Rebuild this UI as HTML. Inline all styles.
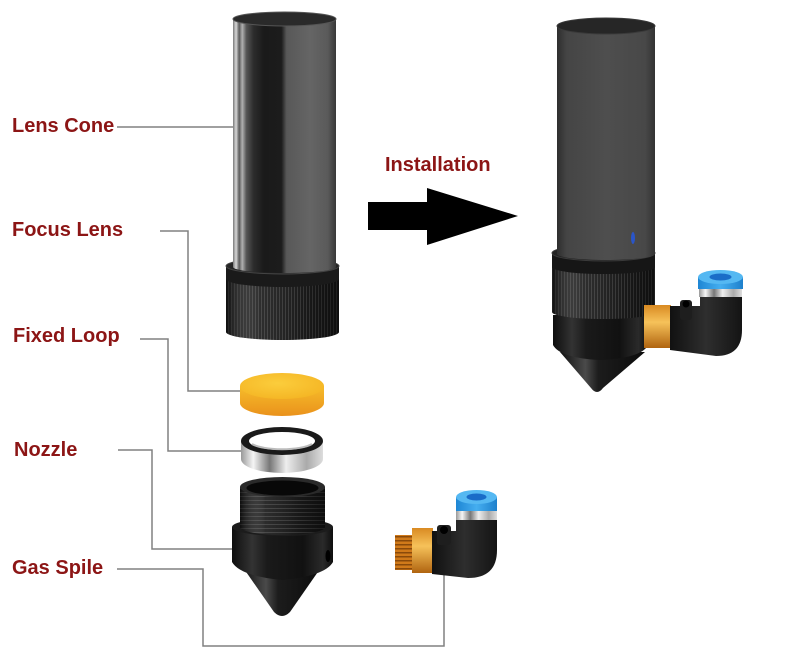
<!DOCTYPE html>
<html><head><meta charset="utf-8">
<style>
html,body{margin:0;padding:0;background:#fff;width:800px;height:664px;overflow:hidden}
svg{display:block}
text{font-family:"Liberation Sans",Arial,sans-serif;font-weight:bold;font-size:20px;fill:#8c1515}
</style></head>
<body>
<svg width="800" height="664" viewBox="0 0 800 664" xmlns="http://www.w3.org/2000/svg">
<defs>
  <linearGradient id="tubeL" x1="0" x2="1" y1="0" y2="0">
    <stop offset="0" stop-color="#7a7a7a"/>
    <stop offset="0.03" stop-color="#d8d8d8"/>
    <stop offset="0.06" stop-color="#5a5a5a"/>
    <stop offset="0.09" stop-color="#b0b0b0"/>
    <stop offset="0.13" stop-color="#555"/>
    <stop offset="0.2" stop-color="#2c2c2c"/>
    <stop offset="0.3" stop-color="#1a1a1a"/>
    <stop offset="0.47" stop-color="#1c1c1c"/>
    <stop offset="0.52" stop-color="#585858"/>
    <stop offset="0.75" stop-color="#656565"/>
    <stop offset="0.92" stop-color="#5a5a5a"/>
    <stop offset="1" stop-color="#383838"/>
  </linearGradient>
  <linearGradient id="tubeR" x1="0" x2="1" y1="0" y2="0">
    <stop offset="0" stop-color="#2e2e2e"/>
    <stop offset="0.1" stop-color="#454545"/>
    <stop offset="0.5" stop-color="#4e4e4e"/>
    <stop offset="0.9" stop-color="#484848"/>
    <stop offset="1" stop-color="#333"/>
  </linearGradient>
  <pattern id="knurl" patternUnits="userSpaceOnUse" width="3" height="10">
    <rect width="3" height="10" fill="#1c1c1c"/>
    <rect width="1" height="10" fill="#3a3a3a"/>
  </pattern>
  <linearGradient id="shade" x1="0" x2="1" y1="0" y2="0">
    <stop offset="0" stop-color="#000" stop-opacity="0.5"/>
    <stop offset="0.3" stop-color="#fff" stop-opacity="0.08"/>
    <stop offset="0.7" stop-color="#000" stop-opacity="0.1"/>
    <stop offset="1" stop-color="#000" stop-opacity="0.5"/>
  </linearGradient>
  <linearGradient id="lensSide" x1="0" x2="0" y1="0" y2="1">
    <stop offset="0" stop-color="#f6bc2a"/>
    <stop offset="1" stop-color="#ea921c"/>
  </linearGradient>
  <radialGradient id="lensTop" cx="0.45" cy="0.4" r="0.7">
    <stop offset="0" stop-color="#fbcd3c"/>
    <stop offset="1" stop-color="#f4b322"/>
  </radialGradient>
  <linearGradient id="silver" x1="0" x2="1" y1="0" y2="0">
    <stop offset="0" stop-color="#999"/>
    <stop offset="0.15" stop-color="#f5f5f5"/>
    <stop offset="0.35" stop-color="#777"/>
    <stop offset="0.55" stop-color="#eee"/>
    <stop offset="0.8" stop-color="#aaa"/>
    <stop offset="1" stop-color="#ddd"/>
  </linearGradient>
  <linearGradient id="noz" x1="0" x2="1" y1="0" y2="0">
    <stop offset="0" stop-color="#0e0e0e"/>
    <stop offset="0.2" stop-color="#333"/>
    <stop offset="0.35" stop-color="#1a1a1a"/>
    <stop offset="0.7" stop-color="#111"/>
    <stop offset="0.9" stop-color="#2a2a2a"/>
    <stop offset="1" stop-color="#0e0e0e"/>
  </linearGradient>
  <linearGradient id="cone" x1="0" x2="1" y1="0" y2="0">
    <stop offset="0" stop-color="#111"/>
    <stop offset="0.3" stop-color="#4a4a4a"/>
    <stop offset="0.45" stop-color="#1c1c1c"/>
    <stop offset="1" stop-color="#0c0c0c"/>
  </linearGradient>
  <linearGradient id="brass" x1="0" x2="0" y1="0" y2="1">
    <stop offset="0" stop-color="#d98a22"/>
    <stop offset="0.4" stop-color="#f6c25a"/>
    <stop offset="1" stop-color="#b06410"/>
  </linearGradient>
  <pattern id="thread" patternUnits="userSpaceOnUse" width="10" height="4">
    <rect width="10" height="4" fill="#d07a1a"/>
    <rect width="10" height="1.5" fill="#8a4a0a"/>
  </pattern>
  <linearGradient id="blk" x1="0" x2="1" y1="0" y2="0">
    <stop offset="0" stop-color="#111"/>
    <stop offset="0.5" stop-color="#2e2e2e"/>
    <stop offset="1" stop-color="#141414"/>
  </linearGradient>
  <linearGradient id="blue" x1="0" x2="1" y1="0" y2="0">
    <stop offset="0" stop-color="#1e86d4"/>
    <stop offset="0.5" stop-color="#45aef0"/>
    <stop offset="1" stop-color="#1e80cc"/>
  </linearGradient>
  <pattern id="nthread" patternUnits="userSpaceOnUse" width="10" height="4">
    <rect width="10" height="4" fill="#1a1a1a"/>
    <rect width="10" height="1" fill="#3a3a3a"/>
  </pattern>
</defs>

<!-- connector lines -->
<g fill="none" stroke="#808080" stroke-width="1.5">
  <path d="M117 127 H233"/>
  <path d="M160 231 H188 V391 H240"/>
  <path d="M140 339 H168 V451 H242"/>
  <path d="M118 450 H152 V549 H232"/>
  <path d="M117 569 H203 V646 H444 V575"/>
</g>

<!-- labels -->
<text x="12" y="132">Lens Cone</text>
<text x="12" y="236">Focus Lens</text>
<text x="13" y="342">Fixed Loop</text>
<text x="14" y="456">Nozzle</text>
<text x="12" y="574">Gas Spile</text>
<text x="385" y="171">Installation</text>

<!-- arrow -->
<polygon points="368,202 427,202 427,188 518,216 427,245 427,230 368,230" fill="#000"/>

<!-- LEFT: knurled ring -->
<path d="M226 266 L226 332 A56.5 8 0 0 0 339 332 L339 266 Z" fill="url(#knurl)"/>
<path d="M226 266 L226 332 A56.5 8 0 0 0 339 332 L339 266 Z" fill="url(#shade)"/>
<path d="M226 266 L226 279 A56.5 8 0 0 0 339 279 L339 266 Z" fill="#1a1a1a"/>
<ellipse cx="282.5" cy="266" rx="56.5" ry="8" fill="#262626" stroke="#444" stroke-width="1"/>
<!-- LEFT: tube -->
<path d="M233 19 L233 267 A51.5 6 0 0 0 336 267 L336 19 Z" fill="url(#tubeL)"/>
<ellipse cx="284.5" cy="19" rx="51.5" ry="7" fill="#2a2a2a" stroke="#555" stroke-width="1"/>

<!-- focus lens -->
<path d="M240 386 L240 403 A42 13 0 0 0 324 403 L324 386 Z" fill="url(#lensSide)"/>
<ellipse cx="282" cy="386" rx="42" ry="13" fill="url(#lensTop)"/>

<!-- fixed loop -->
<path d="M241 441 L241 459 A41 14 0 0 0 323 459 L323 441 Z" fill="url(#silver)"/>
<ellipse cx="282" cy="441" rx="41" ry="14" fill="#1a1a1a"/>
<ellipse cx="282" cy="441" rx="33" ry="9" fill="#fff"/>
<path d="M252 444 A33 9 0 0 0 312 444" fill="none" stroke="#bbb" stroke-width="2"/>

<!-- nozzle -->
<path d="M242 566 L322 566 L290 612 Q282 620 274 612 Z" fill="url(#cone)"/>
<path d="M232 527 L232 562 Q240 576 282 580 Q325 576 333 562 L333 527 Z" fill="url(#noz)"/>
<ellipse cx="328" cy="556" rx="2.5" ry="6" fill="#000"/>
<ellipse cx="282.5" cy="527" rx="50.5" ry="9" fill="#1c1c1c"/>
<path d="M240 487 L240 527 A42.5 8 0 0 0 325 527 L325 487 Z" fill="url(#nthread)"/>
<path d="M240 487 L240 527 A42.5 8 0 0 0 325 527 L325 487 Z" fill="url(#shade)"/>
<ellipse cx="282.5" cy="487" rx="42.5" ry="10" fill="#2a2a2a"/>
<ellipse cx="282.5" cy="488" rx="36" ry="7.5" fill="#080808"/>

<!-- left gas spile -->
<rect x="395" y="535" width="18" height="35" fill="url(#thread)"/>
<rect x="412" y="528" width="21" height="45" fill="url(#brass)"/>
<path d="M432 531 L456 531 L456 520 L497 520 L497 550 Q497 578 468 578 L432 574 Z" fill="url(#blk)"/>
<rect x="437" y="525" width="14" height="20" rx="3" fill="#1e1e1e"/>
<ellipse cx="444" cy="530" rx="4" ry="4" fill="#000"/>
<rect x="456" y="510" width="41" height="10" fill="url(#silver)"/>
<rect x="456" y="497" width="41" height="14" fill="url(#blue)"/>
<ellipse cx="476.5" cy="497" rx="20.5" ry="7" fill="#55b8f2"/>
<ellipse cx="476.5" cy="497" rx="10" ry="3.5" fill="#1a6cc8"/>

<!-- RIGHT assembly -->
<path d="M560 352 L645 352 L603 388 Q597 396 591 388 Z" fill="url(#cone)"/>
<path d="M553 315 L553 345 Q560 358 600 360 Q642 358 648 345 L648 315 Z" fill="url(#noz)"/>
<path d="M552 253 L552 312 A51.5 7 0 0 0 655 312 L655 253 Z" fill="url(#knurl)"/>
<path d="M552 253 L552 312 A51.5 7 0 0 0 655 312 L655 253 Z" fill="url(#shade)"/>
<path d="M552 253 L552 267 A51.5 7 0 0 0 655 267 L655 253 Z" fill="#161616"/>
<ellipse cx="603.5" cy="253" rx="51.5" ry="8" fill="#222" stroke="#3a3a3a" stroke-width="1"/>
<path d="M557 26 L557 254 A49 6 0 0 0 655 254 L655 26 Z" fill="url(#tubeR)"/>
<ellipse cx="606" cy="26" rx="49" ry="8" fill="#262626" stroke="#3a3a3a" stroke-width="1"/>
<ellipse cx="633" cy="238" rx="2" ry="6" fill="#2a55c8"/>

<!-- right fitting -->
<rect x="644" y="305" width="27" height="43" fill="url(#brass)"/>
<path d="M670 306 L700 306 L700 296 L742 296 L742 330 Q742 356 716 356 L670 350 Z" fill="url(#blk)"/>
<rect x="680" y="300" width="12" height="20" rx="3" fill="#1e1e1e"/>
<ellipse cx="686" cy="304" rx="3.5" ry="3.5" fill="#000"/>
<rect x="699" y="287" width="43" height="10" fill="url(#silver)"/>
<rect x="698" y="277" width="45" height="12" fill="url(#blue)"/>
<ellipse cx="720.5" cy="277" rx="22.5" ry="7" fill="#55b8f2"/>
<ellipse cx="720.5" cy="277" rx="11" ry="3.5" fill="#1a6cc8"/>
</svg>
</body></html>
